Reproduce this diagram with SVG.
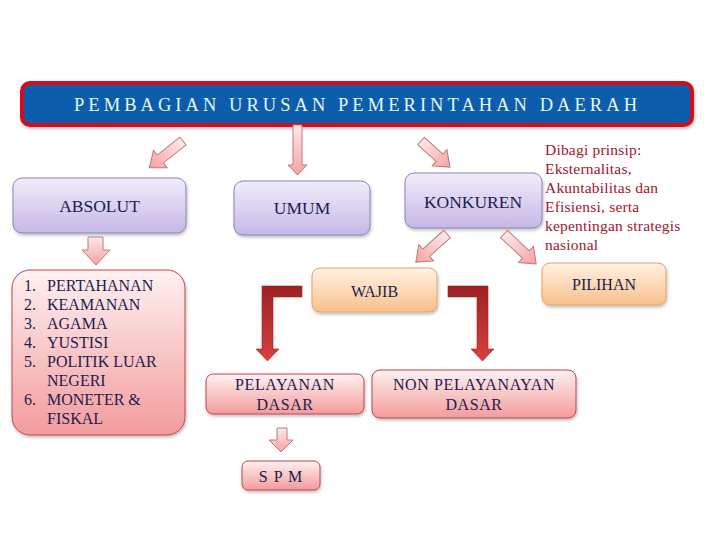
<svg xmlns="http://www.w3.org/2000/svg" width="720" height="540" viewBox="0 0 720 540">
<defs>
<linearGradient id="gLav" x1="0" y1="0" x2="0" y2="1"><stop offset="0" stop-color="#f1edfb"/><stop offset="1" stop-color="#c6b7e6"/></linearGradient>
<linearGradient id="gPink" x1="0" y1="0" x2="0" y2="1"><stop offset="0" stop-color="#fff1f1"/><stop offset="1" stop-color="#f39b9b"/></linearGradient>
<linearGradient id="gOr" x1="0" y1="0" x2="0" y2="1"><stop offset="0" stop-color="#fff2e4"/><stop offset="1" stop-color="#f9c08a"/></linearGradient>
<linearGradient id="gArr" x1="0" y1="0" x2="1" y2="0"><stop offset="0" stop-color="#fdeaea"/><stop offset="1" stop-color="#f4a2a2"/></linearGradient>
<linearGradient id="gArrV" x1="0" y1="0" x2="0" y2="1"><stop offset="0" stop-color="#fdeaea"/><stop offset="1" stop-color="#f4a2a2"/></linearGradient>
<linearGradient id="gDark" x1="0" y1="0" x2="0" y2="1"><stop offset="0" stop-color="#9e2224"/><stop offset="1" stop-color="#d9403f"/></linearGradient>
<filter id="sh" x="-10%" y="-10%" width="130%" height="140%"><feDropShadow dx="1" dy="2" stdDeviation="1.5" flood-color="#000" flood-opacity="0.25"/></filter>
</defs>
<style>
text{font-family:"Liberation Serif","DejaVu Serif","Noto Serif","FreeSerif","Nimbus Roman","Times New Roman",Times,serif;fill:#1c1c52}
.lav{fill:url(#gLav);stroke:#8e80b6;stroke-width:1}
.pink{fill:url(#gPink);stroke:#c4404e;stroke-width:1}
.or{fill:url(#gOr);stroke:#e0a468;stroke-width:1}
.la{fill:url(#gArr);stroke:#c67676;stroke-width:1}
.lv{fill:url(#gArrV);stroke:#c67676;stroke-width:1}
.da{fill:url(#gDark);stroke:#9a2022;stroke-width:0.6}
.lbl{font-size:17.5px;text-anchor:middle}
.sm{font-size:16px;text-anchor:middle;letter-spacing:0.6px}
.list{font-size:16px}
.desc{font-size:15.5px;fill:#a2162a;letter-spacing:0.2px}
</style>
<rect width="720" height="540" fill="#fff"/>

<g id="title">
<rect x="22" y="83" width="670" height="42" rx="8" fill="#0b5dad" stroke="#d4101c" stroke-width="4" filter="url(#sh)"/>
<text x="74" y="111" font-size="18.5" textLength="563" lengthAdjust="spacing" style="fill:#e6f7f7">PEMBAGIAN URUSAN PEMERINTAHAN DAERAH</text>
</g>

<g id="absolut">
<rect class="lav" x="13" y="178" width="173" height="55" rx="9" filter="url(#sh)"/>
<text class="lbl" x="99.5" y="212">ABSOLUT</text>
</g>

<g id="umum">
<rect class="lav" x="234" y="181" width="136" height="54" rx="9" filter="url(#sh)"/>
<text class="lbl" x="302" y="214">UMUM</text>
</g>

<g id="konkuren">
<rect class="lav" x="405" y="173" width="137" height="55" rx="9" filter="url(#sh)"/>
<text class="lbl" x="473" y="208">KONKUREN</text>
</g>

<g id="keterangan">
<text class="desc" x="545" y="155">Dibagi prinsip:</text>
<text class="desc" x="545" y="174">Eksternalitas,</text>
<text class="desc" x="545" y="193">Akuntabilitas dan</text>
<text class="desc" x="545" y="212">Efisiensi, serta</text>
<text class="desc" x="545" y="231">kepentingan strategis</text>
<text class="desc" x="545" y="250">nasional</text>
</g>

<g id="daftar-absolut">
<rect class="pink" x="12" y="270" width="173" height="165" rx="18" filter="url(#sh)"/>
<text class="list" x="24" y="291">1.</text><text class="list" x="47" y="291">PERTAHANAN</text>
<text class="list" x="24" y="310">2.</text><text class="list" x="47" y="310">KEAMANAN</text>
<text class="list" x="24" y="329">3.</text><text class="list" x="47" y="329">AGAMA</text>
<text class="list" x="24" y="348">4.</text><text class="list" x="47" y="348">YUSTISI</text>
<text class="list" x="24" y="367">5.</text><text class="list" x="47" y="367">POLITIK LUAR</text>
<text class="list" x="47" y="386">NEGERI</text>
<text class="list" x="24" y="405">6.</text><text class="list" x="47" y="405">MONETER &amp;</text>
<text class="list" x="47" y="424">FISKAL</text>
</g>

<g id="wajib">
<rect class="or" x="312" y="268" width="125" height="44" rx="8" filter="url(#sh)"/>
<text class="sm" x="374.5" y="297" style="letter-spacing:0">WAJIB</text>
</g>

<g id="pilihan">
<rect class="or" x="542" y="263" width="124" height="42" rx="8" filter="url(#sh)"/>
<text class="sm" x="604" y="290" style="letter-spacing:0">PILIHAN</text>
</g>

<g id="pelayanan-dasar">
<rect class="pink" x="206" y="374" width="158" height="40" rx="7" filter="url(#sh)"/>
<text class="sm" x="285" y="390">PELAYANAN</text>
<text class="sm" x="285" y="410">DASAR</text>
</g>

<g id="non-pelayanan-dasar">
<rect class="pink" x="372" y="370" width="204" height="48" rx="8" filter="url(#sh)"/>
<text class="sm" x="474" y="390">NON PELAYANAYAN</text>
<text class="sm" x="474" y="410">DASAR</text>
</g>

<g id="spm">
<rect class="pink" x="242" y="461" width="78" height="29" rx="6" filter="url(#sh)"/>
<text class="sm" x="281" y="482" style="letter-spacing:1px">S P M</text>
</g>

<g id="connectors">
<path class="la" transform="translate(183,141) rotate(141.5)" d="M0,-5 H29 V-11 L43,0 L29,11 V5 H0 Z"/>
<path class="lv" d="M293,125 H302 V165 H307 L297.5,175 L288,165 H293 Z"/>
<path class="la" transform="translate(421,141) rotate(42)" d="M0,-5 H25 V-11 L39,0 L25,11 V5 H0 Z"/>
<path class="lv" d="M88,237 H103 V250 H110 L96,265 L82,250 H88 Z"/>
<path class="la" transform="translate(447,234) rotate(138)" d="M0,-5 H28 V-11 L42,0 L28,11 V5 H0 Z"/>
<path class="la" transform="translate(504,234) rotate(43)" d="M0,-5 H30 V-11 L44,0 L30,11 V5 H0 Z"/>
<path class="lv" d="M277,428 H287 V440 H293 L281,452 L269,440 H277 Z"/>
<path class="da" d="M302,286 V297 H273 V349 H279 L267.5,361 L256,349 H262 V286 Z"/>
<path class="da" d="M448,286 V297 H477 V349 H471 L482.5,361 L494,349 H488 V286 Z"/>
</g>
</svg>
